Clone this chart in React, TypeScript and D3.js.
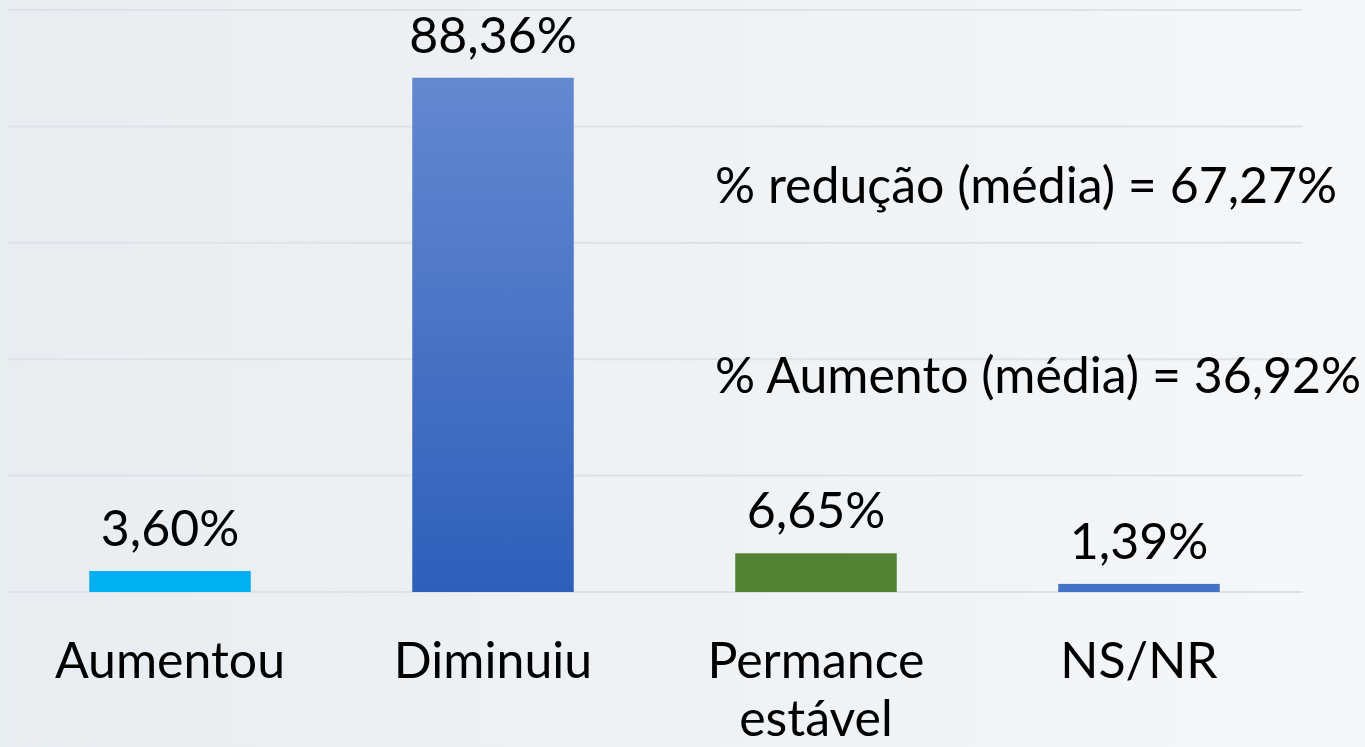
import React from 'react';
import * as d3 from 'd3';

// chart values
const categories = ['Aumentou', 'Diminuiu', 'Permance estável', 'NS/NR'];
const values = [3.6, 88.36, 6.65, 1.39];
const valueLabels = ['3,60%', '88,36%', '6,65%', '1,39%'];
const barColors = ['#00b0f0', 'url(#blueGrad)', '#548235', '#4472c4'];
const gridTicks = [0, 20, 40, 60, 80, 100];
const notes = ['% redução (média) = 67,27%', '% Aumento (média) = 36,92%'];

const svgWidth = 1365;
const svgHeight = 747;
const plotLeft = 8.5;
const plotRight = 1300.5;
const plotTop = 10;
const plotBottom = 592;
const fontFamily = 'Lato, "Open Sans", sans-serif';
const fontSize = 50;

const App = () => {
  const xScale = d3.scaleBand<string>()
    .domain(categories)
    .range([plotLeft, plotRight])
    .paddingInner(0.5)
    .paddingOuter(0.25);

  const yScale = d3.scaleLinear()
    .domain([0, 100])
    .range([plotBottom, plotTop]);

  return (
    <div style={{ position: 'fixed', left: 0, top: 0 }}>
      <svg width={svgWidth} height={svgHeight} style={{ display: 'block' }}>
        <defs>
          <linearGradient id="bg" x1="0" y1="0" x2="1" y2="0">
            <stop offset="0" stopColor="#e8edf1" />
            <stop offset="1" stopColor="#f5f7f9" />
          </linearGradient>
          <linearGradient id="blueGrad" x1="0" y1="0" x2="0" y2="1">
            <stop offset="0" stopColor="#6488d0" />
            <stop offset="1" stopColor="#2e5fba" />
          </linearGradient>
        </defs>
        <rect x={0} y={0} width={svgWidth} height={svgHeight} fill="url(#bg)" />

        {/* gridlines */}
        {gridTicks.map(t => (
          <line key={t} x1={plotLeft} x2={plotRight + 2}
            y1={yScale(t)} y2={yScale(t)}
            stroke="#dce2e7" strokeWidth={2} />
        ))}

        {/* bars and labels */}
        {categories.map((c, i) => {
          const x = xScale(c) || 0;
          const w = xScale.bandwidth();
          const cx = x + w / 2;
          const top = yScale(values[i]);
          const lines = c === 'Permance estável' ? ['Permance', 'estável'] : [c];
          return (
            <g key={c}>
              <rect x={x} y={top} width={w} height={plotBottom - top} fill={barColors[i]} />
              <text x={cx} y={top - 25} textAnchor="middle"
                fontFamily={fontFamily} fontSize={fontSize} fill="#000">
                {valueLabels[i]}
              </text>
              <text textAnchor="middle" fontFamily={fontFamily} fontSize={fontSize} fill="#000">
                {lines.map((l, j) => (
                  <tspan key={l} x={cx} y={678 + j * 58}>{l}</tspan>
                ))}
              </text>
            </g>
          );
        })}

        {/* annotations */}
        {notes.map((n, i) => (
          <text key={n} x={715} y={i === 0 ? 203 : 393}
            fontFamily={fontFamily} fontSize={fontSize} fill="#000">
            {n}
          </text>
        ))}
      </svg>
    </div>
  );
};

export default App;
